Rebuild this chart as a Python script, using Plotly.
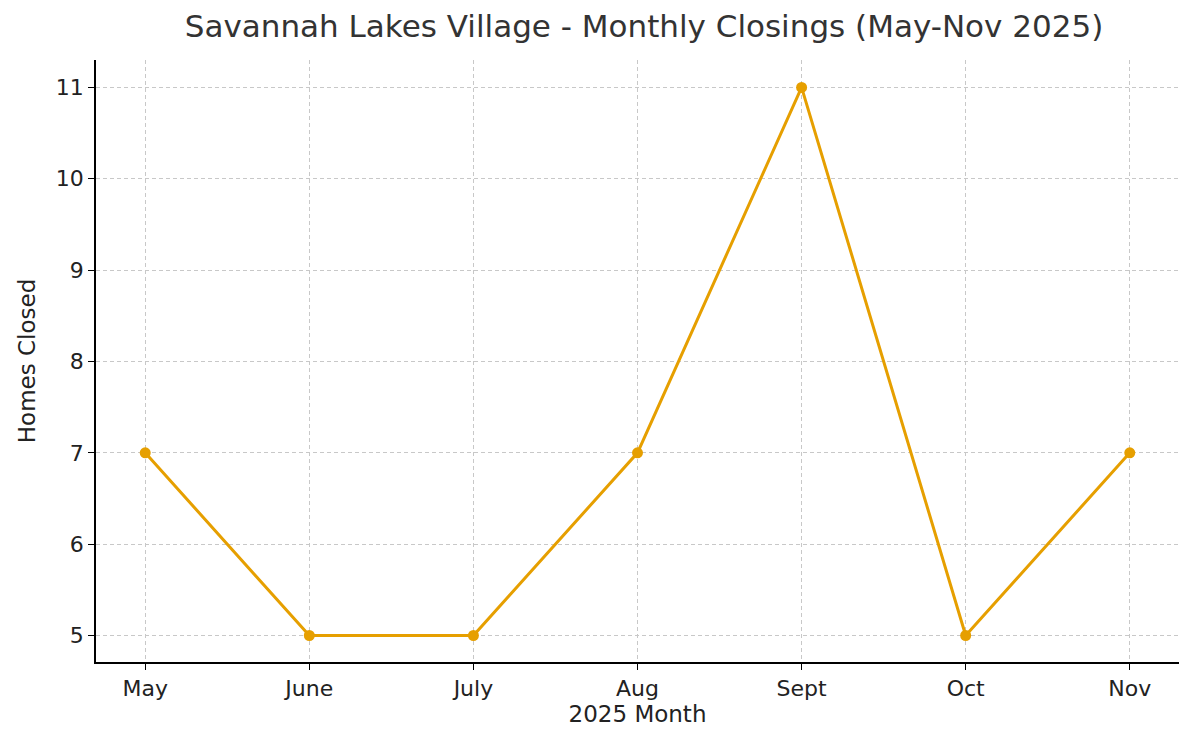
import plotly.graph_objects as go

months = ["May", "June", "July", "Aug", "Sept", "Oct", "Nov"]
homes_closed = [7, 5, 5, 7, 11, 5, 7]

fig = go.Figure()
fig.add_trace(go.Scatter(
    x=list(range(len(months))), y=homes_closed, mode="lines+markers",
    line=dict(color="#E69F00", width=3),
    marker=dict(color="#E69F00", size=11),
    showlegend=False,
))

axis_common = dict(
    showgrid=True, gridcolor="#c8c8c8", griddash="4px,3px", gridwidth=1,
    showline=True, linecolor="black", linewidth=1.5,
    ticks="outside", ticklen=6, tickcolor="black",
    tickfont=dict(size=22, color="#222"), zeroline=False,
)

fig.update_layout(
    width=1200, height=750,
    margin=dict(l=88, r=29, t=52, b=96),
    plot_bgcolor="white", paper_bgcolor="white",
    font=dict(family="DejaVu Sans", color="#222"),
    title=dict(text="Savannah Lakes Village - Monthly Closings (May-Nov 2025)",
               x=0.53, xanchor="center", y=0.99, yanchor="top",
               font=dict(size=31, color="#333")),
    xaxis=dict(axis_common, range=[-0.3, 6.3], tickvals=list(range(len(months))),
               ticktext=months,
               title=dict(text="2025 Month", font=dict(size=23), standoff=6)),
    yaxis=dict(axis_common, range=[4.71, 11.3], tickvals=[5, 6, 7, 8, 9, 10, 11],
               title=dict(text="Homes Closed", font=dict(size=23), standoff=14)),
)

fig.write_html("out.html")
